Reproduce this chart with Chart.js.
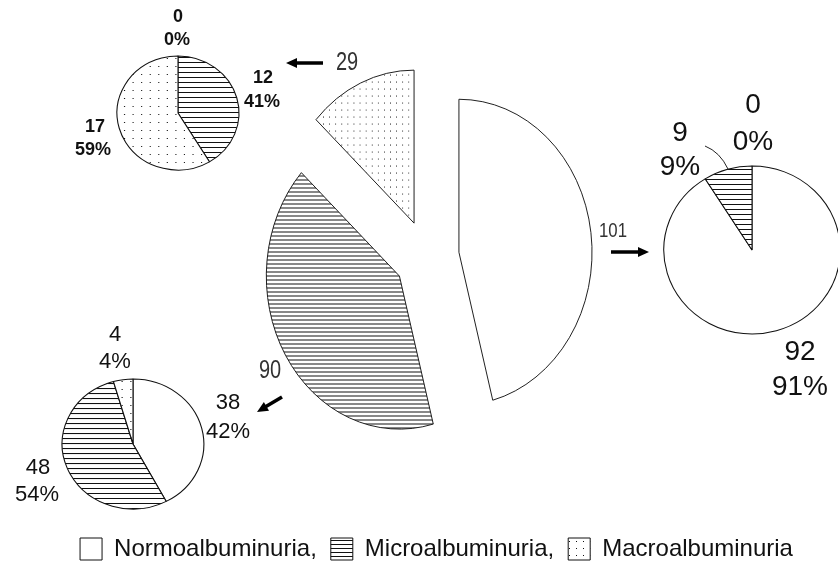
<!DOCTYPE html>
<html>
<head>
<meta charset="utf-8">
<script src="https://cdn.jsdelivr.net/npm/chart.js@4.4.1/dist/chart.umd.min.js"></script>
<style>
  html, body { margin: 0; padding: 0; background: #fff; overflow: hidden; }
  #wrap { position: relative; width: 838px; height: 562px; }
  #wrap canvas { position: absolute; left: 0; top: 0; }
</style>
</head>
<body>
<div id="wrap">
  <canvas id="mainChart" width="838" height="562"></canvas>
  <canvas id="macroChart" width="838" height="562"></canvas>
  <canvas id="normoChart" width="838" height="562"></canvas>
  <canvas id="microChart" width="838" height="562"></canvas>
</div>
<script>
// categorias (mesma ordem em todas as pizzas)
const categories = ['Normoalbuminuria', 'Microalbuminuria', 'Macroalbuminuria'];
// pizza grande: total de pacientes por grupo
const totals = [101, 90, 29];
// pizzas pequenas: distribuição dentro de cada grupo
const normoGroup = [92, 9, 0];
const normoPct = [91, 9, 0];
const microGroup = [38, 48, 4];
const microPct = [42, 54, 4];
const macroGroup = [0, 12, 17];
const macroPct = [0, 41, 59];

const SANS = "'Liberation Sans', Arial, sans-serif";

// padrões de preenchimento (linhas horizontais e pontos)
function makePattern(kind, gap) {
    const c = document.createElement('canvas');
    const p = c.getContext('2d');
    if (kind === 'lines') {
        c.width = 8; c.height = gap;
        p.fillStyle = '#fff'; p.fillRect(0, 0, 8, gap);
        p.fillStyle = '#111'; p.fillRect(0, 0, 8, 1);
    } else {
        c.width = gap; c.height = gap;
        p.fillStyle = '#fff'; p.fillRect(0, 0, gap, gap);
        p.fillStyle = '#111'; p.fillRect(2, 2, 1, 1);
    }
    return p.createPattern(c, 'repeat');
}
const linesBig = makePattern('lines', 4);
const linesSmall = makePattern('lines', 5);
const dotsBig = makePattern('dots', 7);
const dotsSmall = makePattern('dots', 8);

// posiciona a pizza (centro, achatamento) e separa as fatias
function placePie(cfg) {
    return {
        id: 'placePie',
        afterDatasetUpdate(chart, args) {
            if (!cfg.explode) return;
            args.meta.data.forEach(arc => {
                const mid = (arc.startAngle + arc.endAngle) / 2;
                arc.x += Math.cos(mid) * cfg.explode;
                arc.y += Math.sin(mid) * cfg.explode;
            });
        },
        beforeDatasetsDraw(chart) {
            const a = chart.chartArea;
            const ctx = chart.ctx;
            ctx.save();
            ctx.translate(cfg.x, cfg.y);
            ctx.scale(cfg.sx, 1);
            ctx.translate(-(a.left + a.right) / 2, -(a.top + a.bottom) / 2);
        },
        afterDatasetsDraw(chart) {
            chart.ctx.restore();
        }
    };
}

function drawArrow(ctx, x1, y1, x2, y2) {
    const ang = Math.atan2(y2 - y1, x2 - x1);
    const head = 11, half = 5;
    const bx = x2 - Math.cos(ang) * head, by = y2 - Math.sin(ang) * head;
    ctx.beginPath();
    ctx.moveTo(x1, y1);
    ctx.lineTo(bx + Math.cos(ang) * 2, by + Math.sin(ang) * 2);
    ctx.lineWidth = 3.5;
    ctx.strokeStyle = '#000';
    ctx.stroke();
    ctx.beginPath();
    ctx.moveTo(x2, y2);
    ctx.lineTo(bx - Math.sin(ang) * half, by + Math.cos(ang) * half);
    ctx.lineTo(bx + Math.sin(ang) * half, by - Math.cos(ang) * half);
    ctx.closePath();
    ctx.fillStyle = '#000';
    ctx.fill();
}

// textos das fatias: valor em cima, porcentagem embaixo
function sliceNotes(values, pcts, spots, font, color) {
    const out = [];
    values.forEach((v, i) => {
        const s = spots[i];
        out.push({ text: String(v), x: s[0], y: s[1], font, color });
        out.push({ text: pcts[i] + '%', x: s[2], y: s[3], font, color });
    });
    return out;
}

function notesPlugin(notes, extra) {
    return {
        id: 'notes',
        afterDraw(chart) {
            const ctx = chart.ctx;
            ctx.textAlign = 'center';
            ctx.textBaseline = 'middle';
            notes.forEach(n => {
                ctx.save();
                ctx.translate(n.x, n.y);
                ctx.scale(n.sx || 1, 1);   // fonte estreita
                ctx.font = n.font;
                ctx.fillStyle = n.color || '#111';
                ctx.fillText(n.text, 0, 0);
                ctx.restore();
            });
            if (extra) extra(ctx);
        }
    };
}

function pieConfig(values, colors, radius, plugins, showLegend) {
    return {
        type: 'pie',
        data: {
            labels: categories,
            datasets: [{
                data: values,
                backgroundColor: colors,
                borderColor: '#111',
                borderWidth: 1,
                radius: radius,
                clip: false
            }]
        },
        options: {
            responsive: false,
            animation: false,
            events: [],
            layout: { padding: { left: 35, right: 0, top: 0, bottom: -9 } },
            plugins: {
                tooltip: { enabled: false },
                legend: {
                    display: showLegend,
                    position: 'bottom',
                    labels: {
                        color: '#111',
                        font: { family: SANS, size: 24 },
                        boxWidth: 22,
                        boxHeight: 22,
                        padding: 14,
                        generateLabels(chart) {
                            const items = Chart.overrides.doughnut.plugins.legend.labels.generateLabels(chart);
                            items.forEach((it, i) => { if (i < items.length - 1) it.text += ','; });
                            return items;
                        }
                    }
                }
            }
        },
        plugins: plugins
    };
}

// pizza grande (explodida)
const bigNotes = [
    { text: String(totals[2]), x: 347, y: 63, font: '25px ' + SANS, color: '#333', sx: 0.8 },
    { text: String(totals[0]), x: 613, y: 231, font: '21px ' + SANS, color: '#333', sx: 0.8 },
    { text: String(totals[1]), x: 270, y: 371, font: '25px ' + SANS, color: '#333', sx: 0.8 }
];
new Chart(document.getElementById('mainChart'), pieConfig(
    totals, ['#fff', linesBig, dotsBig], 153,
    [placePie({ x: 427, y: 257, sx: 0.87, explode: 37 }),
     notesPlugin(bigNotes, ctx => {
         drawArrow(ctx, 323, 63, 286, 63);
         drawArrow(ctx, 611, 252, 649, 252);
         drawArrow(ctx, 282, 397, 257, 412);
         ctx.beginPath();
         ctx.moveTo(705, 146);
         ctx.quadraticCurveTo(720, 152, 728, 169);
         ctx.lineWidth = 1;
         ctx.strokeStyle = '#222';
         ctx.stroke();
     })],
    true));

// macroalbuminuria (29)
new Chart(document.getElementById('macroChart'), pieConfig(
    macroGroup, ['#fff', linesSmall, dotsSmall], 57,
    [placePie({ x: 178, y: 113, sx: 1.07 }),
     notesPlugin(sliceNotes(macroGroup, macroPct,
         [[178, 17, 177, 40], [263, 78, 262, 102], [95, 127, 93, 150]],
         'bold 18px ' + SANS))],
    false));

// normoalbuminuria (101)
new Chart(document.getElementById('normoChart'), pieConfig(
    normoGroup, ['#fff', linesSmall, dotsSmall], 84,
    [placePie({ x: 752, y: 250, sx: 1.05 }),
     notesPlugin(sliceNotes(normoGroup, normoPct,
         [[800, 352, 800, 387], [680, 133, 680, 167], [753, 105, 753, 142]],
         '28px ' + SANS))],
    false));

// microalbuminuria (90)
new Chart(document.getElementById('microChart'), pieConfig(
    microGroup, ['#fff', linesSmall, dotsSmall], 65,
    [placePie({ x: 133, y: 444, sx: 1.09 }),
     notesPlugin(sliceNotes(microGroup, microPct,
         [[228, 403, 228, 432], [38, 468, 37, 495], [115, 335, 115, 362]],
         '22px ' + SANS))],
    false));
</script>
</body>
</html>
